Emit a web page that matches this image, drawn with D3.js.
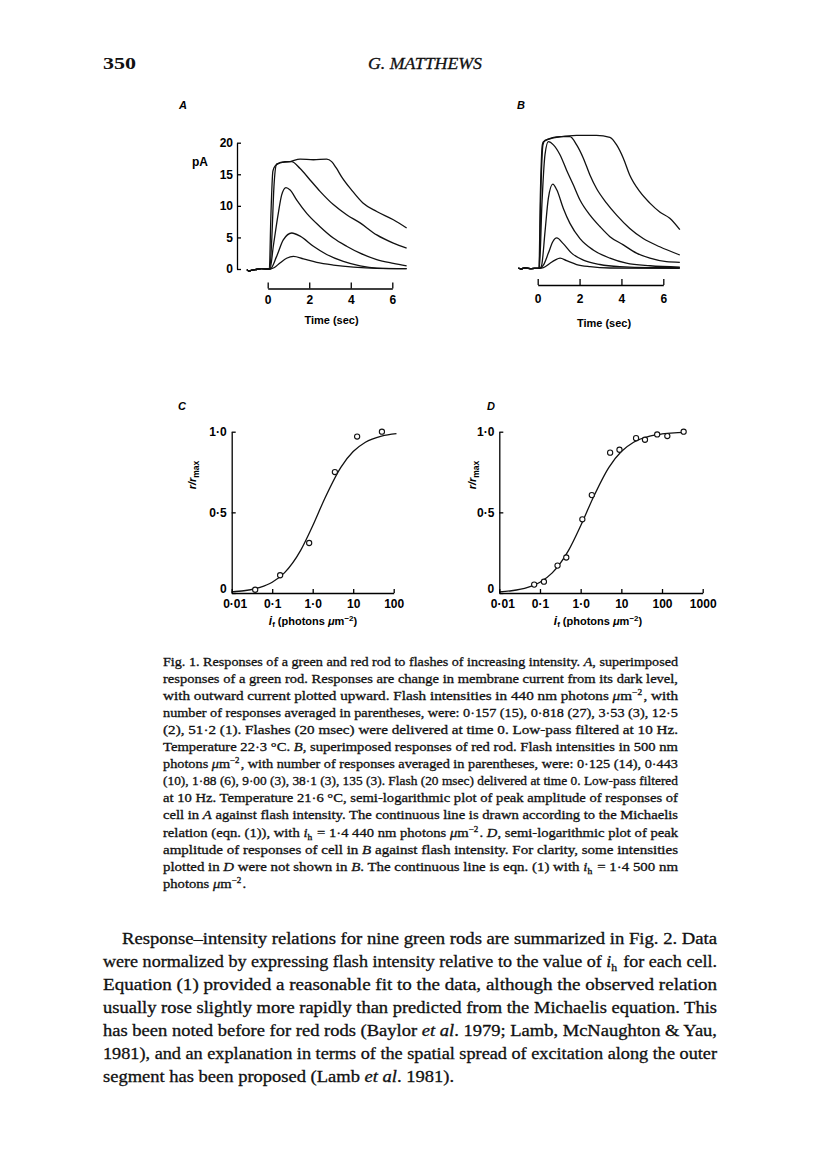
<!DOCTYPE html>
<html><head><meta charset="utf-8">
<script src="https://cdn.jsdelivr.net/npm/d3@7"></script>
<style>body{margin:0;background:#fff}</style>
</head><body><svg id="page" width="816" height="1160" xmlns="http://www.w3.org/2000/svg"></svg>
<script>
// ---------------- DATA ----------------
const timeTicks = [0, 2, 4, 6];
const pATicks = [0, 5, 10, 15, 20];
const rTicks = [0, 0.5, 1];
const rTickLabels = ["0", "0·5", "1·0"];
const cTicks = [0.01, 0.1, 1, 10, 100];
const cTickLabels = ["0·01", "0·1", "1·0", "10", "100"];
const dTicks = [0.01, 0.1, 1, 10, 100, 1000];
const dTickLabels = ["0·01", "0·1", "1·0", "10", "100", "1000"];

// Panel A: green rod responses [time s, pA], flash 0.157, 0.818, 3.53, 12.5, 51.2
const baseA = [[-1.0,-0.1],[-0.9,-0.35],[-0.8,-0.2],[-0.6,-0.1],[-0.3,0.05],[0,0]];
const traceA1 = [[0.1,0],[0.3,0.2],[0.59,0.95],[0.91,1.7],[1.24,2.0],[1.72,1.6],[2.36,1.05],[3.16,0.63],[4.13,0.3],[5.25,0.1],[6.69,0.05]];
const traceA2 = [[0.12,0],[0.43,2.0],[0.75,4.6],[1.16,5.7],[1.56,5.2],[2.2,3.6],[2.84,2.3],[3.64,1.2],[4.45,0.5],[5.25,0.15],[6.69,0.05]];
const traceA3 = [[0.11,0],[0.27,3.6],[0.51,8.8],[0.67,11.7],[0.88,12.9],[1.08,12.5],[1.4,10.9],[1.88,8.8],[2.52,6.7],[3.16,4.9],[3.8,3.6],[4.45,2.5],[5.25,1.5],[6.05,0.9],[6.69,0.5]];
const traceA4 = [[0.1,0],[0.2,5],[0.3,13],[0.43,16.6],[0.83,17.0],[1.15,17.0],[1.56,15.9],[2.04,14.1],[2.52,12.3],[3.16,10.2],[3.8,8.6],[4.45,7.3],[5.25,5.4],[6.05,4.1],[6.69,3.3]];
const traceA5 = [[0.08,0],[0.15,8],[0.25,15.5],[0.35,16.3],[0.6,16.8],[1.08,17.0],[1.56,17.4],[2.2,17.3],[2.84,17.4],[3.08,17.0],[3.3,16.0],[3.56,14.6],[4.04,12.5],[4.6,10.4],[5.25,9.1],[6.05,7.8],[6.69,6.5]];

// Panel B: red rod responses, flash 0.125, 0.443, 1.88, 9.00, 38.1, 135
const baseB = [[-0.92,0.05],[-0.8,-0.1],[-0.6,0.05],[-0.3,-0.05],[0,0]];
const traceB1 = [[0.1,0],[0.27,0.1],[0.59,0.8],[0.83,1.3],[1.07,1.6],[1.38,1.2],[1.86,0.6],[2.5,0.25],[3.45,0.05],[6.79,0]];
const traceB2 = [[0.1,0],[0.27,0.5],[0.51,2.4],[0.72,4.2],[0.91,4.8],[1.22,3.9],[1.62,2.4],[2.18,1.3],[2.97,0.6],[3.93,0.25],[5.36,0.1],[6.79,0.1]];
const traceB3 = [[0.1,0],[0.19,0.5],[0.35,5.8],[0.51,11.1],[0.72,13.3],[0.91,12.4],[1.22,9.5],[1.54,7.1],[2.02,4.7],[2.65,2.9],[3.45,1.6],[4.24,0.8],[5.36,0.4],[6.79,0.2]];
const traceB4 = [[0.08,0],[0.2,10],[0.35,18],[0.51,20.0],[0.75,19.5],[1.07,17.9],[1.38,15.5],[1.7,13.2],[2.02,10.8],[2.5,8.4],[2.97,6.6],[3.45,5.0],[4.09,3.7],[4.72,2.4],[5.36,1.6],[6.15,1.05],[6.79,0.95]];
const traceB5 = [[0.07,0],[0.15,12],[0.25,19.5],[0.35,20.2],[1.07,20.8],[1.54,20.8],[1.86,19.5],[2.18,17.4],[2.5,14.7],[2.81,12.6],[3.29,10.3],[3.77,8.4],[4.4,6.3],[5.04,4.7],[5.83,3.4],[6.79,2.1]];
const traceB6 = [[0.06,0],[0.13,12],[0.22,19.5],[0.27,20.0],[0.75,20.6],[1.86,21.0],[2.81,21.0],[3.45,20.7],[3.77,19.5],[4.09,17.4],[4.4,14.7],[4.88,12.1],[5.36,10.3],[5.83,8.9],[6.31,7.9],[6.79,6.1]];

// Panel C: peak r/rmax vs flash intensity (green rod)
const pointsC_i = [0.038, 0.157, 0.818, 3.53, 12.5, 51.2];
const pointsC_r = [0.02, 0.11, 0.31, 0.75, 0.97, 1.0];
const curveC_i = [0.01, 0.02, 0.05, 0.1, 0.2, 0.5, 1, 2, 5, 10, 20, 50, 117];
const curveC_r = [0.007, 0.014, 0.035, 0.067, 0.125, 0.263, 0.417, 0.588, 0.781, 0.877, 0.935, 0.973, 0.988];

// Panel D: peak r/rmax vs flash intensity (red rod)
const pointsD_i = [0.072, 0.125, 0.27, 0.443, 1.1, 1.88, 5.3, 9.0, 23, 38.1, 76, 135, 340];
const pointsD_r = [0.052, 0.07, 0.17, 0.22, 0.457, 0.607, 0.87, 0.888, 0.96, 0.95, 0.983, 0.973, 1.0];
const curveD_i = [0.01, 0.02, 0.05, 0.1, 0.2, 0.5, 1, 2, 5, 10, 20, 50, 100, 200, 330];
const curveD_r = [0.007, 0.014, 0.035, 0.067, 0.125, 0.263, 0.417, 0.588, 0.781, 0.877, 0.935, 0.973, 0.986, 0.993, 0.996];

// Text
const headerPage = "350";
const headerAuthor = "G. MATTHEWS";
const captionLines = [
 "Fig. 1. Responses of a green and red rod to flashes of increasing intensity. *A*, superimposed",
 "responses of a green rod. Responses are change in membrane current from its dark level,",
 "with outward current plotted upward. Flash intensities in 440 nm photons *μ*m^−2^, with",
 "number of responses averaged in parentheses, were: 0·157 (15), 0·818 (27), 3·53 (3), 12·5",
 "(2), 51·2 (1). Flashes (20 msec) were delivered at time 0. Low-pass filtered at 10 Hz.",
 "Temperature 22·3 °C. *B*, superimposed responses of red rod. Flash intensities in 500 nm",
 "photons *μ*m^−2^, with number of responses averaged in parentheses, were: 0·125 (14), 0·443",
 "(10), 1·88 (6), 9·00 (3), 38·1 (3), 135 (3). Flash (20 msec) delivered at time 0. Low-pass filtered",
 "at 10 Hz. Temperature 21·6 °C, semi-logarithmic plot of peak amplitude of responses of",
 "cell in *A* against flash intensity. The continuous line is drawn according to the Michaelis",
 "relation (eqn. (1)), with *i*_h_ = 1·4  440 nm photons *μ*m^−2^. *D*, semi-logarithmic plot of peak",
 "amplitude of responses of cell in *B* against flash intensity. For clarity, some intensities",
 "plotted in *D* were not shown in *B*. The continuous line is eqn. (1) with *i*_h_ = 1·4 500 nm",
 "photons *μ*m^−2^."
];
const bodyLines = [
 "Response–intensity relations for nine green rods are summarized in Fig. 2. Data",
 "were normalized by expressing flash intensity relative to the value of *i*_h_ for each cell.",
 "Equation (1) provided a reasonable fit to the data, although the observed relation",
 "usually rose slightly more rapidly than predicted from the Michaelis equation. This",
 "has been noted before for red rods (Baylor *et al*. 1979; Lamb, McNaughton & Yau,",
 "1981), and an explanation in terms of the spatial spread of excitation along the outer",
 "segment has been proposed (Lamb *et al*. 1981)."
];

// ---------------- DRAWING ----------------
const svg = d3.select("#page");
const SANS = "'Liberation Sans', Arial, sans-serif";
const SERIF = "'Liberation Serif', 'Times New Roman', serif";

function styleAxis(g, size) {
  g.attr("font-family", SANS).attr("font-size", size).attr("font-weight", "bold");
  g.selectAll("path.domain").attr("stroke", "#000").attr("stroke-width", 1.3);
  g.selectAll(".tick line").attr("stroke", "#000").attr("stroke-width", 1.3);
  g.selectAll(".tick text").attr("fill", "#000");
}

const lineGen = (x, y) => d3.line().x(d => x(d[0])).y(d => y(d[1])).curve(d3.curveMonotoneX);

// ---- Panel A ----
const xA = d3.scaleLinear().domain([0, 6]).range([267.7, 392.3]);
const yA = d3.scaleLinear().domain([0, 20]).range([269, 142.7]);
const gA = svg.append("g");
[traceA1, traceA2, traceA3, traceA4, traceA5].forEach(tr => {
  gA.append("path").datum(baseA.concat(tr)).attr("d", lineGen(xA, yA))
    .attr("fill", "none").attr("stroke", "#111").attr("stroke-width", 1.3);
});
const axA = gA.append("g").attr("transform", "translate(237,0)")
  .call(d3.axisLeft(yA).tickValues(pATicks).tickSize(-4).tickSizeOuter(0).tickPadding(4));
styleAxis(axA, 12);
const tA = gA.append("g").attr("transform", "translate(0,288.5)")
  .call(d3.axisBottom(xA).tickValues(timeTicks).tickFormat(d3.format("d")).tickSize(-6).tickSizeOuter(0).tickPadding(7));
styleAxis(tA, 12);
gA.append("text").attr("x", 192).attr("y", 166).text("pA")
  .attr("font-family", SANS).attr("font-size", 12).attr("font-weight", "bold");
gA.append("text").attr("x", 331.5).attr("y", 324).attr("text-anchor", "middle").text("Time (sec)")
  .attr("font-family", SANS).attr("font-size", 11).attr("font-weight", "bold");
gA.append("text").attr("x", 179).attr("y", 109).text("A")
  .attr("font-family", SANS).attr("font-size", 11).attr("font-weight", "bold").attr("font-style", "italic");

// ---- Panel B ----
const xB = d3.scaleLinear().domain([0, 6]).range([537.7, 663.3]);
const yB = d3.scaleLinear().domain([0, 20]).range([268.3, 141.7]);
const gB = svg.append("g");
[traceB1, traceB2, traceB3, traceB4, traceB5, traceB6].forEach(tr => {
  gB.append("path").datum(baseB.concat(tr)).attr("d", lineGen(xB, yB))
    .attr("fill", "none").attr("stroke", "#111").attr("stroke-width", 1.3);
});
const tB = gB.append("g").attr("transform", "translate(0,285)")
  .call(d3.axisBottom(xB).tickValues(timeTicks).tickFormat(d3.format("d")).tickSize(-6).tickSizeOuter(0).tickPadding(9));
styleAxis(tB, 12);
gB.append("text").attr("x", 604).attr("y", 327).attr("text-anchor", "middle").text("Time (sec)")
  .attr("font-family", SANS).attr("font-size", 11).attr("font-weight", "bold");
gB.append("text").attr("x", 517).attr("y", 109).text("B")
  .attr("font-family", SANS).attr("font-size", 11).attr("font-weight", "bold").attr("font-style", "italic");

// ---- Panels C & D ----
function doseResponse(opts) {
  const g = svg.append("g");
  const x = d3.scaleLog().domain(opts.xDomain).range(opts.xRange);
  const y = d3.scaleLinear().domain([0, 1]).range([593, 431.7]);
  const curve = opts.curveI.map((v, i) => [v, opts.curveR[i]]);
  g.append("path").datum(curve)
    .attr("d", d3.line().x(d => x(d[0])).y(d => y(d[1])).curve(d3.curveMonotoneX))
    .attr("fill", "none").attr("stroke", "#111").attr("stroke-width", 1.3);
  const ax = g.append("g").attr("transform", `translate(${opts.xRange[0]},0)`)
    .call(d3.axisLeft(y).tickValues(rTicks).tickFormat((d, i) => rTickLabels[i]).tickSize(-4).tickSizeOuter(0).tickPadding(5));
  styleAxis(ax, 12);
  ax.selectAll(".tick text").filter(d => d === 0).attr("dy", "-0.05em");
  const bx = g.append("g").attr("transform", "translate(0,593)")
    .call(d3.axisBottom(x).tickValues(opts.ticks).tickFormat((d, i) => opts.tickLabels[i]).tickSize(-4).tickSizeOuter(0).tickPadding(6));
  styleAxis(bx, 12);
  bx.selectAll(".tick text").filter(d => d === 0.01).attr("dx", 3);
  g.selectAll("circle.pt").data(opts.pi.map((v, i) => [v, opts.pr[i]])).join("circle")
    .attr("class", "pt").attr("cx", d => x(d[0])).attr("cy", d => y(d[1])).attr("r", 2.6)
    .attr("fill", "#fff").attr("stroke", "#111").attr("stroke-width", 1.1);
  // y label
  const yl = g.append("text").attr("transform", `translate(${opts.yLabelX},475) rotate(-90)`)
    .attr("text-anchor", "middle").attr("font-family", SANS).attr("font-size", 11).attr("font-weight", "bold");
  yl.append("tspan").attr("font-style", "italic").text("r/r");
  yl.append("tspan").attr("dy", 3).attr("font-size", 8.5).text("max");
  // x label
  const xl = g.append("text").attr("x", opts.xLabelX).attr("y", 624.5).attr("text-anchor", "middle")
    .attr("font-family", SANS).attr("font-size", 11).attr("font-weight", "bold");
  xl.append("tspan").attr("font-style", "italic").attr("font-size", 12).text("i");
  xl.append("tspan").attr("dy", 2.5).attr("font-size", 8).text("f");
  xl.append("tspan").attr("dy", -2.5).text("  (photons ");
  xl.append("tspan").attr("font-style", "italic").text("μ");
  xl.append("tspan").text("m");
  xl.append("tspan").attr("dy", -4).attr("font-size", 8).text("−2");
  xl.append("tspan").attr("dy", 4).text(")");
  g.append("text").attr("x", opts.letterX).attr("y", 410).text(opts.letter)
    .attr("font-family", SANS).attr("font-size", 11).attr("font-weight", "bold").attr("font-style", "italic");
}
doseResponse({xDomain: [0.01, 100], xRange: [231.7, 393.7], ticks: cTicks, tickLabels: cTickLabels,
  curveI: curveC_i, curveR: curveC_r, pi: pointsC_i, pr: pointsC_r, yLabelX: 196, xLabelX: 313, letter: "C", letterX: 178});
doseResponse({xDomain: [0.01, 1000], xRange: [499.3, 702.7], ticks: dTicks, tickLabels: dTickLabels,
  curveI: curveD_i, curveR: curveD_r, pi: pointsD_i, pr: pointsD_r, yLabelX: 476, xLabelX: 598, letter: "D", letterX: 487});

// ---- Text blocks ----
function richLine(parent, str, x, y, size) {
  const t = parent.append("text").attr("x", x).attr("y", y)
    .attr("font-family", SERIF).attr("font-size", size).attr("fill", "#111")
    .attr("stroke", "#111").attr("stroke-width", 0.3);
  const parts = str.split(/(\*[^*]+\*|\^[^^]+\^|_[^_]+_)/).filter(s => s.length);
  parts.forEach(p => {
    if (p[0] === "*") t.append("tspan").attr("font-style", "italic").text(p.slice(1, -1));
    else if (p[0] === "^") {
      t.append("tspan").attr("dy", -size * 0.38).attr("font-size", size * 0.62).text(p.slice(1, -1));
      t.append("tspan").attr("dy", size * 0.38).text("\u200A");
    } else if (p[0] === "_") {
      t.append("tspan").attr("dy", size * 0.25).attr("font-size", size * 0.65).text(p.slice(1, -1));
      t.append("tspan").attr("dy", -size * 0.25).text("\u200A");
    } else t.append("tspan").text(p);
  });
  return t;
}
// justify block: full lines stretched to width, last line scaled by mean ratio
function block(lines, x0, indent, y0, step, size, right) {
  const nodes = lines.map((l, i) => {
    const x = x0 + (i === 0 ? indent : 0);
    return {t: richLine(txt, l, x, y0 + i * step, size), x};
  });
  const ratios = [];
  nodes.forEach((n, i) => {
    if (i < nodes.length - 1) {
      const w = n.t.node().getComputedTextLength();
      ratios.push((right - n.x) / w);
      n.t.attr("textLength", right - n.x).attr("lengthAdjust", "spacingAndGlyphs");
    }
  });
  const m = d3.median(ratios);
  const last = nodes[nodes.length - 1];
  last.t.attr("textLength", last.t.node().getComputedTextLength() * m).attr("lengthAdjust", "spacingAndGlyphs");
}

const txt = svg.append("g");
txt.append("text").attr("x", 103).attr("y", 69).text(headerPage)
  .attr("font-family", SERIF).attr("font-size", 17).attr("font-weight", "bold").attr("fill", "#111")
  .attr("textLength", 33).attr("lengthAdjust", "spacingAndGlyphs");
txt.append("text").attr("x", 368).attr("y", 69).text(headerAuthor)
  .attr("font-family", SERIF).attr("font-size", 17).attr("font-style", "italic").attr("fill", "#111")
  .attr("stroke", "#111").attr("stroke-width", 0.3)
  .attr("textLength", 114).attr("lengthAdjust", "spacingAndGlyphs");

block(captionLines, 163, 0, 666, 17.05, 12.8, 678);
block(bodyLines, 103, 19, 944, 23, 16.2, 717);
</script></body></html>
